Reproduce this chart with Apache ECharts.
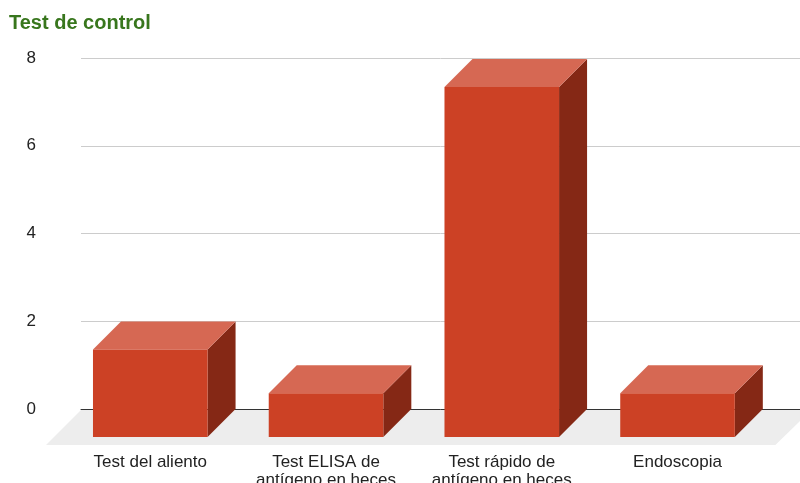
<!DOCTYPE html>
<html><head><meta charset="utf-8">
<style>html,body{margin:0;padding:0;background:#fff}#c{width:800px;height:483px}</style>
<script src="https://cdn.jsdelivr.net/npm/echarts@6/dist/echarts.min.js"></script>
</head><body><div id="c"></div>
<script>
const titleText = 'Test de control';
const categories = ['Test del aliento', 'Test ELISA de\nantígeno en heces', 'Test rápido de\nantígeno en heces', 'Endoscopia'];
const values = [2, 1, 8, 1];
const yMin = 0, yMax = 8, yStep = 2;

const FRONT = '#cc4125', TOP = '#d66853', SIDE = '#852815', FLOOR = '#ededed';
const DEPTH = 28, BAR_RATIO = 0.652;
const FONT = '"Liberation Sans", Arial, sans-serif';

const chart = echarts.init(document.getElementById('c'), null, {renderer: 'canvas'});

function renderBar(params, api) {
  const base = api.coord([api.value(0), 0]);
  const top = api.coord([api.value(0), api.value(1)]);
  const w = api.size([1, 0])[0] * BAR_RATIO;
  const l = base[0] - w / 2, r = base[0] + w / 2, t = top[1], b = base[1];
  return {type: 'group', children: [
    {type: 'polygon', shape: {points: [[r, t], [r + DEPTH, t - DEPTH], [r + DEPTH, b - DEPTH], [r, b]]}, style: {fill: SIDE}},
    {type: 'polygon', shape: {points: [[l, t], [l + DEPTH, t - DEPTH], [r + DEPTH, t - DEPTH], [r, t]]}, style: {fill: TOP}},
    {type: 'rect', shape: {x: l, y: t, width: w, height: b - t}, style: {fill: FRONT}}
  ]};
}

function renderFloor(params, api) {
  const cs = params.coordSys;
  const b = cs.y + cs.height;
  const pts = [[cs.x + 18.6, b - DEPTH + 1], [cs.x + cs.width + 46, b - DEPTH + 1], [cs.x + cs.width + 10, b + 8], [cs.x - 16.4, b + 8]];
  return {type: 'polygon', shape: {points: pts}, style: {fill: FLOOR}};
}

chart.setOption({
  animation: false,
  backgroundColor: '#fff',
  title: {text: titleText, left: 9, top: 13, padding: 0, textStyle: {fontFamily: FONT, fontWeight: 'bold', fontSize: 20, color: '#38761d'}},
  grid: [
    {left: 81, right: 0, top: 58, bottom: 74, outerBoundsMode: 'none'},
    {left: 62.4, width: 703, top: 87, bottom: 46, outerBoundsMode: 'none'}
  ],
  xAxis: [
    {type: 'value', gridIndex: 0, min: 0, max: 1, show: true, axisLine: {show: true, onZero: true, lineStyle: {color: '#333', width: 1}}, axisTick: {show: false}, axisLabel: {show: false}, splitLine: {show: false}},
    {type: 'category', gridIndex: 1, data: categories, axisLine: {show: false}, axisTick: {show: false},
      axisLabel: {interval: 0, margin: 16, fontFamily: FONT, fontSize: 17, lineHeight: 18, color: '#222', hideOverlap: false}}
  ],
  yAxis: [
    {type: 'value', gridIndex: 0, min: yMin, max: yMax, interval: yStep, axisLine: {show: false}, axisTick: {show: false},
      axisLabel: {margin: 45, fontFamily: FONT, fontSize: 17, color: '#222'}, splitLine: {lineStyle: {color: '#ccc', width: 1}}},
    {type: 'value', gridIndex: 1, min: yMin, max: yMax, interval: yStep, show: false, splitLine: {show: false}}
  ],
  series: [
    {type: 'custom', name: 'floor', xAxisIndex: 1, yAxisIndex: 1, z: 1, silent: true, renderItem: renderFloor, data: [[0, 0]]},
    {type: 'custom', name: titleText, xAxisIndex: 1, yAxisIndex: 1, z: 3, renderItem: renderBar,
      encode: {x: 0, y: 1}, data: values.map((v, i) => [i, v])}
  ]
});
</script></body></html>
